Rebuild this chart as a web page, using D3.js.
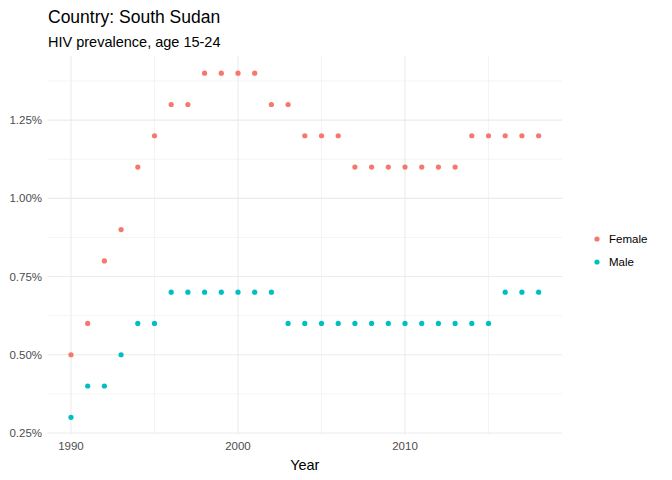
<!DOCTYPE html>
<html>
<head>
<meta charset="UTF-8">
<script src="https://d3js.org/d3.v7.min.js"></script>
<style>body{margin:0;background:#fff;} text{font-family:"Liberation Sans",Arial,sans-serif;}</style>
</head>
<body>
<svg id="chart" width="672" height="480"></svg>
<script>
const years = d3.range(1990, 2019);
const female = [0.5,0.6,0.8,0.9,1.1,1.2,1.3,1.3,1.4,1.4,1.4,1.4,1.3,1.3,1.2,1.2,1.2,1.1,1.1,1.1,1.1,1.1,1.1,1.1,1.2,1.2,1.2,1.2,1.2];
const male = [0.3,0.4,0.4,0.5,0.6,0.6,0.7,0.7,0.7,0.7,0.7,0.7,0.7,0.6,0.6,0.6,0.6,0.6,0.6,0.6,0.6,0.6,0.6,0.6,0.6,0.6,0.7,0.7,0.7];
const seriesNames = ["Female", "Male"];
const colors = ["#F8766D", "#00BFC4"];
const yTicks = [0.25, 0.5, 0.75, 1.0, 1.25];
const xTicks = [1990, 2000, 2010];

const svg = d3.select("#chart");
const x = d3.scaleLinear().domain([1988.6, 2019.4]).range([47.6, 562]);
const y = d3.scaleLinear().domain([0.245, 1.455]).range([434.5, 56]);

const grid = svg.append("g");
[0.375, 0.625, 0.875, 1.125, 1.375].forEach(v => grid.append("line")
  .attr("x1", 47.6).attr("x2", 562).attr("y1", y(v)).attr("y2", y(v))
  .attr("stroke", "#ebebeb").attr("stroke-width", 0.55));
[1995, 2005, 2015].forEach(v => grid.append("line")
  .attr("y1", 56).attr("y2", 434.5).attr("x1", x(v)).attr("x2", x(v))
  .attr("stroke", "#ebebeb").attr("stroke-width", 0.55));
yTicks.forEach(v => grid.append("line")
  .attr("x1", 47.6).attr("x2", 562).attr("y1", y(v)).attr("y2", y(v))
  .attr("stroke", "#ebebeb").attr("stroke-width", 1.1));
xTicks.forEach(v => grid.append("line")
  .attr("y1", 56).attr("y2", 434.5).attr("x1", x(v)).attr("x2", x(v))
  .attr("stroke", "#ebebeb").attr("stroke-width", 1.1));

svg.append("g").selectAll("text").data(yTicks).join("text")
  .attr("x", 42).attr("y", d => y(d)).attr("dy", "0.35em")
  .attr("text-anchor", "end").attr("font-size", 11.5).attr("fill", "#4d4d4d")
  .text(d => d3.format(".2f")(d) + "%");
svg.append("g").selectAll("text").data(xTicks).join("text")
  .attr("x", d => x(d)).attr("y", 450).attr("text-anchor", "middle")
  .attr("font-size", 11.5).attr("fill", "#4d4d4d").text(d => d);

[female, male].forEach((s, i) => {
  svg.append("g").selectAll("circle").data(s).join("circle")
    .attr("cx", (d, j) => x(years[j])).attr("cy", d => y(d))
    .attr("r", 2.6).attr("fill", colors[i]);
});

svg.append("text").attr("x", x(2004)).attr("y", 470).attr("text-anchor", "middle")
  .attr("font-size", 14.5).text("Year");
svg.append("text").attr("x", 48).attr("y", 23).attr("font-size", 17.5).text("Country: South Sudan");
svg.append("text").attr("x", 48).attr("y", 47).attr("font-size", 14.5).text("HIV prevalence, age 15-24");

const lg = svg.append("g");
seriesNames.forEach((n, i) => {
  lg.append("circle").attr("cx", 597).attr("cy", 239 + i * 23).attr("r", 2.6).attr("fill", colors[i]);
  lg.append("text").attr("x", 609).attr("y", 239 + i * 23).attr("dy", "0.35em")
    .attr("font-size", 11.5).text(n);
});
</script>
</body>
</html>
